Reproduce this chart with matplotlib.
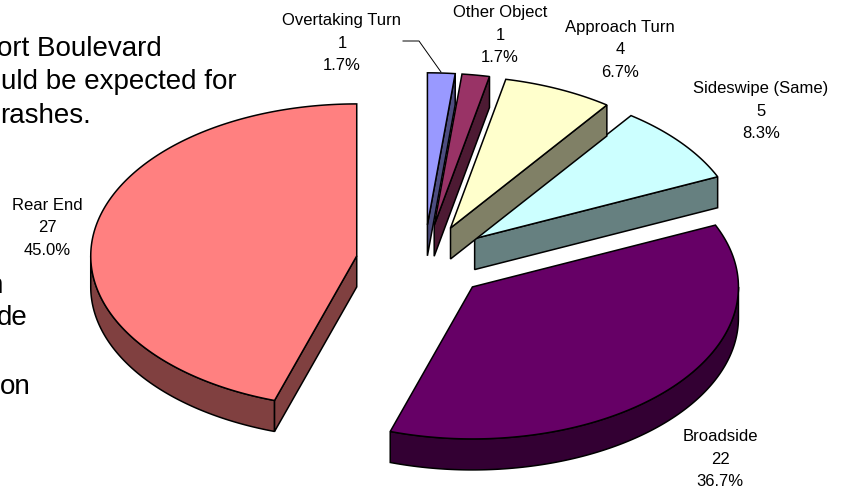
import numpy as np
import matplotlib
matplotlib.use("Agg")
from matplotlib import pyplot as plt
from matplotlib.patches import Polygon

categories = ["Overtaking Turn", "Other Object", "Approach Turn", "Sideswipe (Same)", "Broadside", "Rear End"]
counts = [1, 1, 4, 5, 22, 27]
percents = ["1.7%", "1.7%", "6.7%", "8.3%", "36.7%", "45.0%"]
top_colors = ["#9999ff", "#993366", "#ffffcc", "#ccffff", "#660066", "#ff8080"]
side_colors = ["#4d4d80", "#4d1a33", "#808066", "#668080", "#330033", "#804040"]
explode = [0.245, 0.245, 0.245, 0.245, 0.245, 0.256]
label_xy = [(342, 43), (500, 35), (620, 50), (761, 111), (720, 459), (47, 228)]
# text running behind the chart, cut off by the left edge
slide_text = [("ort Boulevard", 162, 56), ("uld be expected for", 237, 89), ("rashes.", 91, 123),
              ("n", 3, 293), ("de", 28, 325), ("on", 31, 394)]

# pie geometry in pixels
cx, cy = 424, 262
rx, ry = 266, 152
depth = 31

plt.rcParams['font.family'] = ['Liberation Sans', 'DejaVu Sans']
fig = plt.figure(figsize=(8.43, 4.87), dpi=100)
ax = fig.add_axes([0, 0, 1, 1])
ax.set_xlim(0, 843)
ax.set_ylim(487, 0)
ax.axis('off')


def point(ox, oy, deg, scale=1.0):
    # angles run clockwise from twelve o'clock
    t = np.radians(deg)
    return ox + scale * rx * np.sin(t), oy - scale * ry * np.cos(t)


def arc(ox, oy, a0, a1):
    t = np.linspace(a0, a1, max(int(abs(a1 - a0) * 2), 2))
    x, y = point(ox, oy, t)
    return np.column_stack([x, y])


def draw_slice(a0, a1, top, side, offset):
    mid = (a0 + a1) / 2
    ox, oy = point(cx, cy, mid, offset)
    down = np.array([0, depth])
    apex = np.array([[ox, oy]])
    # outer rim, only where it faces the viewer
    lo, hi = max(a0, 90), min(a1, 270)
    if lo < hi:
        rim = arc(ox, oy, lo, hi)
        ax.add_patch(Polygon(np.vstack([rim, rim[::-1] + down]), fc=side, ec='black', lw=1.1))
    # cut faces
    if 0 < a1 < 180:
        end = np.array([point(ox, oy, a1)])
        ax.add_patch(Polygon(np.vstack([apex, end, end + down, apex + down]), fc=side, ec='black', lw=1.1))
    if 180 < a0 < 360:
        start = np.array([point(ox, oy, a0)])
        ax.add_patch(Polygon(np.vstack([apex, start, start + down, apex + down]), fc=side, ec='black', lw=1.1))
    ax.add_patch(Polygon(np.vstack([apex, arc(ox, oy, a0, a1)]), fc=top, ec='black', lw=1.1))


edges = np.concatenate([[0], np.cumsum(counts)]) / sum(counts) * 360

for s, x, y in slide_text:
    ax.text(x, y, s, fontsize=20, color='black', va='baseline', ha='right')

# the rear end slice sits apart, the rest go back to front from broadside round to the top
for i in [5, 4, 3, 2, 1, 0]:
    draw_slice(edges[i], edges[i + 1], top_colors[i], side_colors[i], explode[i])

for name, n, pct, (x, y) in zip(categories, counts, percents, label_xy):
    ax.text(x, y, "%s\n%d\n%s" % (name, n, pct), fontsize=12, ha='center', va='center',
            linespacing=1.6, color='black')

# leader line for the first label
ax.plot([403, 419, 441], [41, 41, 72], color='black', lw=0.7)

fig.savefig("out.png", dpi=100)
